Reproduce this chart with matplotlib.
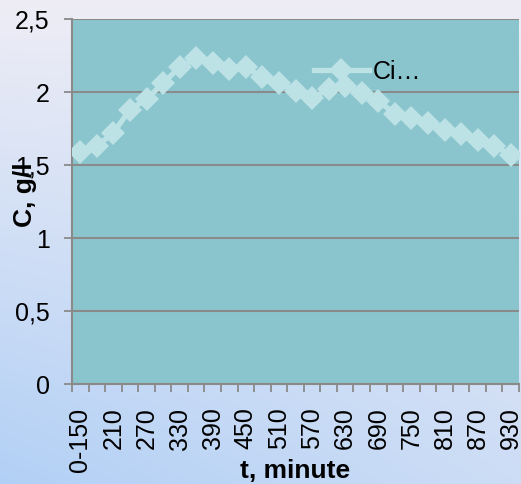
import matplotlib.pyplot as plt
import numpy as np
from matplotlib.ticker import FixedLocator, FuncFormatter

plt.rcParams["font.family"] = ["Liberation Sans", "DejaVu Sans"]

categories = ["0-150", "180", "210", "240", "270", "300", "330", "360", "390",
              "420", "450", "480", "510", "540", "570", "600", "630", "660",
              "690", "720", "750", "780", "810", "840", "870", "900", "930"]
concentration = [1.59, 1.63, 1.72, 1.88, 1.95, 2.06, 2.17, 2.23, 2.20,
                 2.16, 2.17, 2.10, 2.06, 2.01, 1.96, 2.02, 2.04, 1.99,
                 1.94, 1.85, 1.82, 1.79, 1.74, 1.71, 1.67, 1.63, 1.57]
series_name = "Ci\u2026"

fig = plt.figure(figsize=(5.21, 4.84), dpi=100)

# soft lavender-to-blue backdrop
bg = fig.add_axes([0, 0, 1, 1], zorder=-10)
yy, xx = np.mgrid[0:1:200j, 0:1:200j]
top = np.array([238, 237, 245]) / 255
bottom = np.array([178, 208, 246]) / 255
t = np.clip(yy * (1.0 - 0.45 * xx), 0, 1)[..., None]
bg.imshow(top * (1 - t) + bottom * t, aspect="auto", extent=[0, 1, 0, 1], origin="upper")
bg.axis("off")

ax = fig.add_axes([72 / 521, 100 / 484, 447 / 521, 365 / 484])
ax.set_facecolor("#8AC5CD")

x = np.arange(len(categories))
ax.plot(x, concentration, color="#BCE2E5", lw=3.8, marker="D", markersize=12,
        markeredgewidth=0, label=series_name, zorder=3)

ax.set_xlim(-0.5, len(categories) - 0.5)
ax.set_ylim(0, 2.5)
ax.set_yticks(np.arange(0, 2.51, 0.5))
ax.yaxis.set_major_formatter(FuncFormatter(lambda v, p: f"{v:g}".replace(".", ",")))
ax.grid(axis="y", color="#8A8A8A", lw=1.5)
ax.set_axisbelow(True)

ax.set_xticks(x[::2])
ax.set_xticklabels(categories[::2], rotation=90)
ax.xaxis.set_minor_locator(FixedLocator(np.arange(-0.5, len(categories), 1)))
ax.tick_params(axis="x", which="major", length=0, pad=17, labelsize=18)
ax.tick_params(axis="x", which="minor", length=6, width=1.3, color="#8A8A8A")
ax.tick_params(axis="y", length=6, width=1.3, color="#8A8A8A", pad=10, labelsize=18)

for side in ["top", "right"]:
    ax.spines[side].set_visible(False)
for side in ["left", "bottom"]:
    ax.spines[side].set_color("#8A8A8A")
    ax.spines[side].set_linewidth(1.5)

ax.set_xlabel("t, minute", fontsize=19, fontweight="bold", va="center")
ax.xaxis.set_label_coords(0.5, -0.238)
ax.set_ylabel("C, g/l", fontsize=19, fontweight="bold", va="center")
ax.yaxis.set_label_coords(-0.105, 0.52)

ax.legend(loc="center left", bbox_to_anchor=(0.49, 0.855), frameon=False,
          fontsize=18, handlelength=2.2, handletextpad=0.15)

fig.savefig("out.png", dpi=100)
